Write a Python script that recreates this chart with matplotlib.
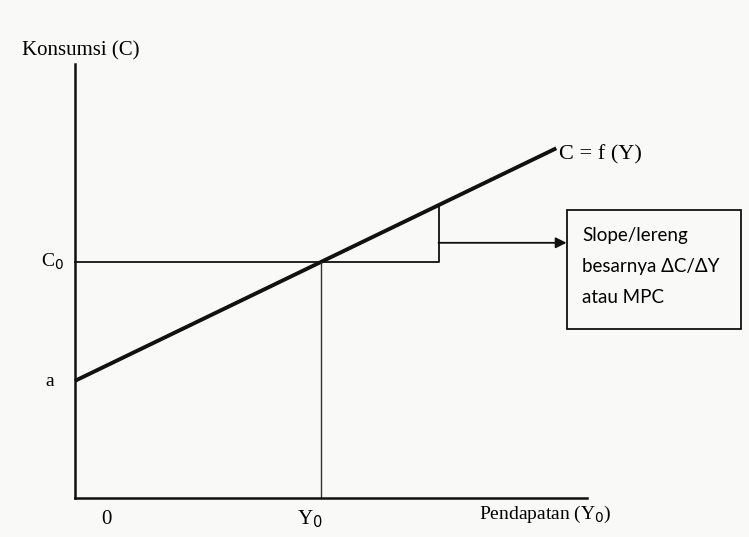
import numpy as np
import matplotlib.pyplot as plt

# fungsi konsumsi C = a + MPC * Y
a = 2.7
mpc = 0.57
y0 = 4.8
y1 = 7.1
y_end = 9.4
y_line = np.array([0, y_end])
c_line = a + mpc * y_line
c0 = a + mpc * y0
c1 = a + mpc * y1
arrow_level = 5.88
box_x = [9.6, 13.0]
box_y = [3.89, 6.64]
box_text = ["Slope/lereng", "besarnya ΔC/ΔY", "atau MPC"]

W, H = 749, 537
fig = plt.figure(figsize=(W / 100, H / 100), dpi=100)
fig.patch.set_facecolor('#f9f9f8')
ax = fig.add_axes([75 / W, 39 / H, 512 / W, 434 / H])
ax.set_facecolor('none')
ax.set_xlim(0, 10)
ax.set_ylim(0, 10)
for s in ['top', 'right']:
    ax.spines[s].set_visible(False)
for s in ['left', 'bottom']:
    ax.spines[s].set_linewidth(1.8)
    ax.spines[s].set_color('#111111')
ax.set_xticks([])
ax.set_yticks([])

serif = 'Liberation Serif'

# garis konsumsi
ax.plot(y_line, c_line, color='#111111', lw=2.8, solid_capstyle='butt', clip_on=False)
# garis C0 dan segitiga slope
ax.plot([0, y1, y1], [c0, c0, c1], color='#111111', lw=1.3, clip_on=False)
# garis Y0
ax.plot([y0, y0], [0, c0], color='#333333', lw=1.0)
# panah ke kotak
ax.annotate('', xy=(box_x[0], arrow_level), xytext=(y1, arrow_level),
            arrowprops=dict(arrowstyle='-|>', color='#111111', lw=1.3,
                            mutation_scale=16, shrinkA=0, shrinkB=0),
            annotation_clip=False)
# kotak
ax.add_patch(plt.Rectangle((box_x[0], box_y[0]), box_x[1] - box_x[0], box_y[1] - box_y[0],
                           fill=False, ec='#111111', lw=1.3, clip_on=False))
for i, t in enumerate(box_text):
    ax.text(box_x[0] + 0.3, 6.05 - i * 0.72, t, fontsize=13.5, family='Lato',
            va='center', ha='left', clip_on=False)

ax.text(y_end + 0.05, c_line[-1] - 0.15, 'C = f (Y)', fontsize=16, family=serif,
        va='center', ha='left')

def px(x, y):
    return x / W, 1 - y / H

fig.text(*px(22, 51), 'Konsumsi (C)', fontsize=15, family=serif, va='center', ha='left')
fig.text(*px(41, 262), r'C$_0$', fontsize=14, family=serif, va='center', ha='left')
fig.text(*px(45, 381), 'a', fontsize=14, family=serif, va='center', ha='left')
fig.text(*px(106, 520), '0', fontsize=15, family=serif, va='center', ha='center')
fig.text(*px(310, 519), r'Y$_0$', fontsize=15, family=serif, va='center', ha='center')
fig.text(*px(479, 514), r'Pendapatan (Y$_0$)', fontsize=14, family=serif, va='center', ha='left')

fig.savefig('out.png', dpi=100, facecolor=fig.get_facecolor())
